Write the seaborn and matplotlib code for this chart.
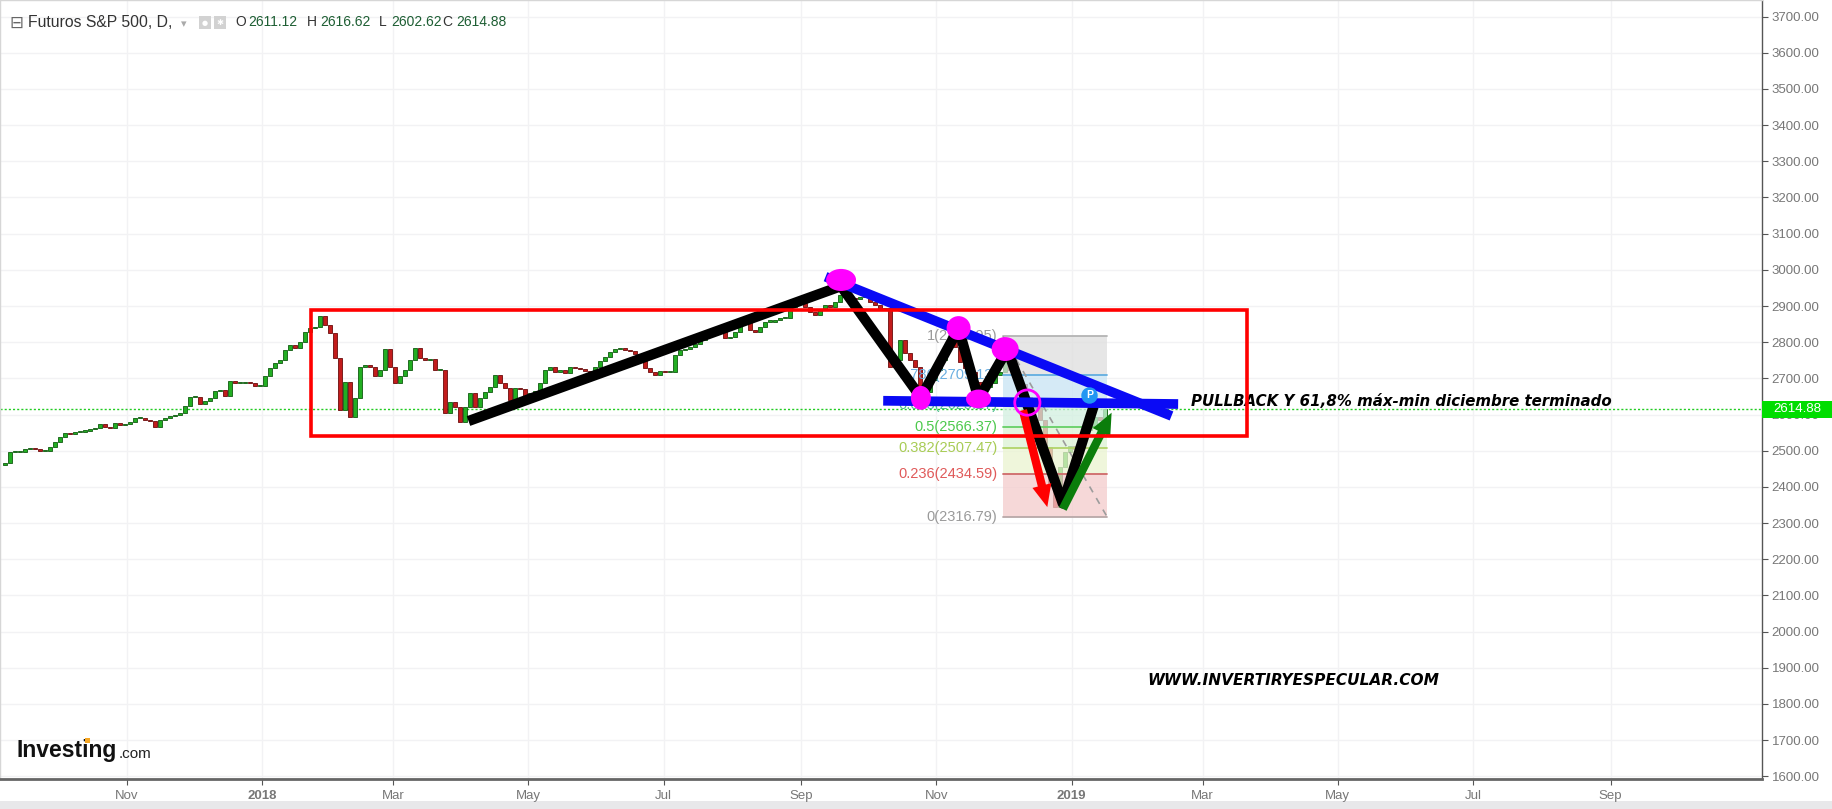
import numpy as np
import pandas as pd
import matplotlib
matplotlib.use("Agg")
import matplotlib.pyplot as plt
import matplotlib.dates as mdates
from matplotlib.patches import Ellipse, Rectangle, FancyArrowPatch, ArrowStyle
import seaborn as sns

# ---------------- data ----------------
CANDLE_START = "2017-09-07"
CANDLE_END = "2019-01-16"
FIRST_OPEN = 2460.0
CLOSES = [
    2467, 2495, 2497, 2497, 2504, 2508, 2505, 2499, 2500, 2511,
    2525, 2537, 2550, 2545, 2551, 2553, 2555, 2559, 2563, 2574,
    2566, 2562, 2576, 2571, 2574, 2579, 2589, 2589, 2585, 2582,
    2566, 2585, 2589, 2596, 2598, 2603, 2624, 2648, 2649, 2629,
    2636, 2647, 2665, 2668, 2651, 2693, 2686, 2688, 2689, 2688,
    2679, 2679, 2707, 2728, 2743, 2751, 2778, 2792, 2783, 2801,
    2829, 2838, 2841, 2872, 2847, 2824, 2755, 2612, 2691, 2594,
    2645, 2732, 2737, 2732, 2706, 2723, 2780, 2732, 2686, 2706,
    2723, 2751, 2783, 2755, 2751, 2753, 2723, 2723, 2603, 2635,
    2622, 2580, 2622, 2660, 2622, 2645, 2663, 2677, 2708, 2686,
    2672, 2640, 2672, 2670, 2651, 2660, 2666, 2686, 2723, 2730,
    2718, 2723, 2716, 2732, 2728, 2725, 2721, 2714, 2732, 2749,
    2758, 2774, 2780, 2785, 2778, 2775, 2767, 2758, 2728, 2718,
    2709, 2721, 2718, 2718, 2764, 2778, 2782, 2788, 2795, 2806,
    2813, 2820, 2838, 2834, 2811, 2815, 2829, 2852, 2861, 2834,
    2829, 2843, 2857, 2857, 2861, 2866, 2866, 2898, 2907, 2907,
    2898, 2884, 2875, 2889, 2903, 2898, 2912, 2930, 2926, 2921,
    2918, 2924, 2924, 2912, 2903, 2891, 2894, 2732, 2751, 2806,
    2769, 2751, 2732, 2677, 2663, 2695, 2723, 2751, 2783, 2801,
    2788, 2746, 2728, 2718, 2691, 2663, 2677, 2688, 2709, 2718,
    2746, 2723, 2705, 2684, 2649, 2640, 2617, 2585, 2511, 2401,
    2345, 2456, 2497, 2513, 2504, 2539, 2557, 2571, 2594, 2585,
    2614.88,
]
LAST_OHLC = {"O": "2611.12", "H": "2616.62", "L": "2602.62", "C": "2614.88"}
LAST_PRICE = 2614.88

YTICKS = list(range(1600, 3800, 100))
XTICK_DATES = ["2017-11-01", "2018-01-01", "2018-03-01", "2018-05-01", "2018-07-01",
               "2018-09-01", "2018-11-01", "2019-01-01", "2019-03-01", "2019-05-01",
               "2019-07-01", "2019-09-01"]
XTICK_LABELS = ["Nov", "2018", "Mar", "May", "Jul", "Sep", "Nov", "2019",
                "Mar", "May", "Jul", "Sep"]

BOX_DATES = ["2018-01-23", "2019-03-21"]
BOX_PRICES = [2540.6, 2889.0]

ZIG_DATES = ["2018-04-04", "2018-09-19", "2018-10-25", "2018-11-11",
             "2018-11-20", "2018-12-03", "2018-12-28", "2019-01-11"]
ZIG_PRICES = [2582, 2955, 2647, 2838, 2643, 2780, 2354, 2625]

BLUE_DESC_DATES = ["2018-09-12", "2019-02-15"]
BLUE_DESC_PRICES = [2981, 2596]
BLUE_FLAT_DATES = ["2018-10-08", "2019-02-18"]
BLUE_FLAT_PRICES = [2638, 2629]

DOT_DATES = ["2018-09-19", "2018-11-11", "2018-12-02", "2018-10-25", "2018-11-20"]
DOT_PRICES = [2972, 2839, 2781, 2646, 2643]
DOT_W_DAYS = [13.5, 10.8, 12.2, 9.0, 11.3]
DOT_H_PTS = [61, 66, 66, 66, 52]

RING_DATE, RING_PRICE = "2018-12-12", 2633
RED_ARROW = [("2018-12-10", 2612), ("2018-12-21", 2344)]
GREEN_ARROW = [("2018-12-28", 2339), ("2019-01-19", 2605)]

FIB_DATES = ["2018-12-01", "2019-01-17"]
FIB_HIGH, FIB_LOW = 2815.95, 2316.79
FIB_RATIOS = [1, 0.786, 0.618, 0.5, 0.382, 0.236, 0]
FIB_LINE_COLORS = ["#b4b4b4", "#62aee0", "#58c99a", "#66d066", "#b2d46a", "#cf6a6a", "#b8a8a8"]
FIB_TEXT_COLORS = ["#9a9a9a", "#6aaee0", "#4fbf8f", "#4cc94c", "#a8cc55", "#e05a5a", "#9a9a9a"]
FIB_FILL_COLORS = ["#dedede", "#c8e4f4", "#d2f0e0", "#dcf2d4", "#eaf4d0", "#f4cccc"]

P_DATE, P_PRICE = "2019-01-09", 2654

NOTE_TEXT = "PULLBACK Y 61,8% máx-min diciembre terminado"
NOTE_POS = ("2019-02-24", 2637)
SITE_TEXT = "WWW.INVERTIRYESPECULAR.COM"
SITE_POS = ("2019-02-04", 1866)

XLIM = ("2017-09-04 17:30", "2019-11-08 07:00")
YLIM = (1592.3, 3746.0)

# ---------------- style ----------------
sns.set_theme(style="white")
plt.rcParams["font.family"] = ["Liberation Sans", "DejaVu Sans"]

W, H = 1832, 809
fig = plt.figure(figsize=(W / 100, H / 100), dpi=100)
fig.patch.set_facecolor("white")
ax = fig.add_axes([0, 30 / H, 1762 / W, 779 / H])
ax.set_facecolor("white")

dn = lambda d: mdates.date2num(pd.Timestamp(d))

ax.set_xlim(dn(XLIM[0]), dn(XLIM[1]))
ax.set_ylim(*YLIM)

# grid
ax.set_yticks(YTICKS)
ax.set_xticks([dn(d) for d in XTICK_DATES])
ax.grid(True, color="#f2f2f4", lw=1.0, zorder=0)
ax.set_axisbelow(True)

# white cover patch at the top (pasted area in the original)
ax.add_patch(Rectangle((dn("2018-11-23"), 2900), dn("2019-01-12") - dn("2018-11-23"),
                       YLIM[1] - 2900, fc="white", ec="none", zorder=0.5))
ax.add_patch(Rectangle((dn("2018-10-20"), 3021), dn("2018-11-23") - dn("2018-10-20"),
                       YLIM[1] - 3021, fc="white", ec="none", zorder=0.5))

# last price dotted line
ax.axhline(LAST_PRICE, color="#22cc22", lw=1.0, ls=(0, (1.5, 1.5)), zorder=1)

# ---------------- candles ----------------
dates = pd.date_range(CANDLE_START, CANDLE_END, periods=len(CLOSES))
closes = np.array(CLOSES, dtype=float)
opens = np.concatenate([[FIRST_OPEN], closes[:-1]])
up = closes >= opens
bottoms = np.minimum(opens, closes)
heights = np.maximum(np.abs(closes - opens), 3.0)
xd = mdates.date2num(dates)
ax.bar(xd[up], heights[up], bottom=bottoms[up], width=1.8, color="#22ae22",
       edgecolor="#0f5a0f", linewidth=0.6, zorder=2)
ax.bar(xd[~up], heights[~up], bottom=bottoms[~up], width=1.8, color="#c21c1c",
       edgecolor="#6a0b0b", linewidth=0.6, zorder=2)

# ---------------- fibonacci retracement ----------------
fx0, fx1 = dn(FIB_DATES[0]), dn(FIB_DATES[1])
levels = [FIB_LOW + r * (FIB_HIGH - FIB_LOW) for r in FIB_RATIOS]
for i in range(len(levels) - 1):
    ax.fill_between([fx0, fx1], levels[i + 1], levels[i], color=FIB_FILL_COLORS[i],
                    alpha=0.75, lw=0, zorder=3)
for r, v, lc, tc in zip(FIB_RATIOS, levels, FIB_LINE_COLORS, FIB_TEXT_COLORS):
    ax.plot([fx0, fx1], [v, v], color=lc, lw=1.3, zorder=3.5)
    ax.annotate(f"{r:g}({v:.2f})", xy=(fx0, v), xytext=(-4, 0), textcoords="offset points",
                ha="right", va="center", fontsize=10.5, color=tc, zorder=4)
ax.plot([fx0, fx1], [FIB_HIGH, FIB_LOW], color="#9c9c9c", lw=1.2, ls=(0, (4, 4)), zorder=3.6)

# ---------------- drawings ----------------
ax.add_patch(Rectangle((dn(BOX_DATES[0]), BOX_PRICES[0]),
                       dn(BOX_DATES[1]) - dn(BOX_DATES[0]), BOX_PRICES[1] - BOX_PRICES[0],
                       fill=False, ec="#ff0000", lw=2.6, zorder=9))

zig = pd.DataFrame({"d": pd.to_datetime(ZIG_DATES), "p": ZIG_PRICES})
sns.lineplot(data=zig, x="d", y="p", sort=False, estimator=None, color="black",
             lw=7.4, ax=ax, zorder=6, solid_capstyle="butt", solid_joinstyle="round")
for dd, pp in [(BLUE_DESC_DATES, BLUE_DESC_PRICES), (BLUE_FLAT_DATES, BLUE_FLAT_PRICES)]:
    bl = pd.DataFrame({"d": pd.to_datetime(dd), "p": pp})
    sns.lineplot(data=bl, x="d", y="p", sort=False, estimator=None, color="#0a0af5",
                 lw=7.0, ax=ax, zorder=7, solid_capstyle="butt")
ax.set_xlabel("")
ax.set_ylabel("")

for d, p, w, h in zip(DOT_DATES, DOT_PRICES, DOT_W_DAYS, DOT_H_PTS):
    ax.add_patch(Ellipse((dn(d), p), w, h, fc="#ff00ff", ec="none", zorder=8))
ax.scatter([dn(RING_DATE)], [RING_PRICE], s=330, facecolors="none",
           edgecolors="#ff00ff", linewidths=2.0, zorder=8)

for arr, col in [(RED_ARROW, "#ff0000"), (GREEN_ARROW, "#0b7d0b")]:
    (d0, p0), (d1, p1) = arr
    ax.add_patch(FancyArrowPatch((dn(d0), p0), (dn(d1), p1),
                                 arrowstyle=ArrowStyle("simple", head_length=1.6,
                                                       head_width=1.4, tail_width=0.6),
                                 mutation_scale=10, shrinkA=0, shrinkB=0,
                                 fc=col, ec="none", zorder=7.5))

ax.scatter([dn(P_DATE)], [P_PRICE], s=140, color="#2196f3", zorder=8.5, linewidths=0)
ax.text(dn(P_DATE), P_PRICE, "P", color="white", fontsize=7.5, fontweight="bold",
        ha="center", va="center", zorder=8.6)

ax.text(dn(NOTE_POS[0]), NOTE_POS[1], NOTE_TEXT, family="DejaVu Sans", fontweight="bold",
        fontstyle="italic", fontsize=10.8, color="black", ha="left", va="center", zorder=8)
ax.text(dn(SITE_POS[0]), SITE_POS[1], SITE_TEXT, family="DejaVu Sans", fontweight="bold",
        fontstyle="italic", fontsize=11.1, color="black", ha="left", va="center", zorder=8)

# axes styling
ax.yaxis.tick_right()
ax.set_yticklabels([f"{v:.2f}" for v in YTICKS])
ax.set_xticklabels(XTICK_LABELS)
for lbl in ax.get_xticklabels():
    if lbl.get_text() in ("2018", "2019"):
        lbl.set_fontweight("bold")
        lbl.set_color("#555555")
ax.tick_params(axis="y", which="both", right=True, left=False, direction="out",
               length=4, width=0.8, color="#555555", labelsize=9.5,
               labelcolor="#777777", pad=3)
ax.tick_params(axis="x", which="both", bottom=True, direction="out", length=4,
               width=0.8, color="#555555", labelsize=9.5, labelcolor="#777777", pad=4)
for side, col, lw in [("left", "#d6d6d6", 1.0), ("top", "#d6d6d6", 1.0),
                      ("right", "#555555", 1.0), ("bottom", "#666666", 2.0)]:
    ax.spines[side].set_visible(True)
    ax.spines[side].set_color(col)
    ax.spines[side].set_linewidth(lw)

# ---------------- last price tag ----------------
fig.canvas.draw()
ypix = ax.transData.transform((ax.get_xlim()[0], LAST_PRICE))[1]
fig.add_artist(Rectangle((1762 / W, (ypix - 8.5) / H), 70 / W, 17 / H,
                         transform=fig.transFigure, fc="#00dd00", ec="none", zorder=10))
fig.text(1797 / W, ypix / H, f"{LAST_PRICE:.2f}", color="white", fontsize=9.5,
         ha="center", va="center", zorder=11)

# ---------------- header ----------------
yh = 1 - 22.5 / H
fig.text(9 / W, yh, "⊟", family="DejaVu Sans", fontsize=12, color="#666666", va="center")
fig.text(28 / W, yh, "Futuros S&P 500, D,", fontsize=11.3, color="#333333", va="center")
fig.text(181 / W, yh - 0.002, "▾", family="DejaVu Sans", fontsize=8, color="#aaaaaa", va="center")
for x0 in (199, 214):
    fig.add_artist(Rectangle((x0 / W, 1 - 28.5 / H), 12 / W, 12 / H,
                             transform=fig.transFigure, fc="#d2d2d2", ec="none"))
fig.text(205 / W, yh, "●", family="DejaVu Sans", fontsize=5, color="white", ha="center", va="center")
fig.text(220 / W, yh, "✱", family="DejaVu Sans", fontsize=6, color="white", ha="center", va="center")
hdr = [("O", 235, 248), ("H", 307, 320), ("L", 379, 391), ("C", 442, 456)]
for k, xl, xv in hdr:
    fig.text(xl / W, yh, k, fontsize=10, color="#333333", va="center")
    fig.text(xv / W, yh, LAST_OHLC[k], fontsize=10, color="#1d5e33", va="center")

# ---------------- logo ----------------
fig.text(17 / W, 1 - 751 / H, "Investing", fontsize=16.5, fontweight="bold", color="#111111",
         va="center")
fig.text(119 / W, 1 - 754 / H, ".com", fontsize=11, color="#222222", va="center")
fig.add_artist(Rectangle((85 / W, 1 - 743 / H), 5 / W, 5 / H, transform=fig.transFigure,
                         fc="#f5a623", ec="none", zorder=12))

# bottom toolbar strip
fig.add_artist(Rectangle((0, 0), 1, 8 / H, transform=fig.transFigure, fc="#e8e8ea",
                         ec="none", zorder=0))

fig.savefig("out.png", dpi=100)
